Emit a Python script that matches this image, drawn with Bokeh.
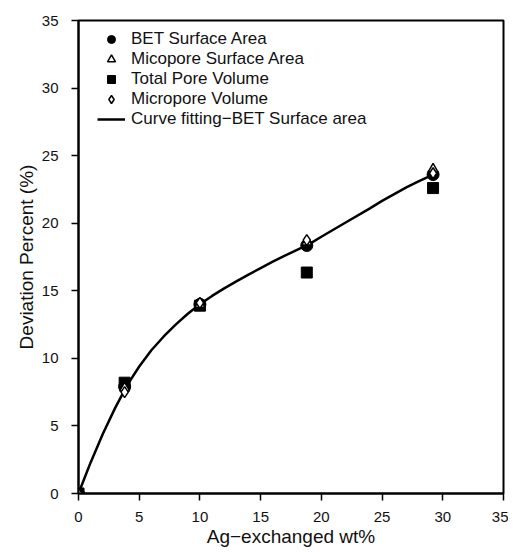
from bokeh.plotting import figure
from bokeh.models import Legend, LegendItem, FixedTicker, Range1d
from bokeh.embed import file_html
from bokeh.resources import INLINE

# data
x_pts = [0, 3.8, 10.0, 18.8, 29.2]
bet = [0, 7.9, 14.0, 18.35, 23.6]
micro_sa = [0, 7.8, 14.0, 18.6, 24.0]
total_pv = [0, 8.2, 13.9, 16.35, 22.6]
micro_vol = [0, 7.5, 14.1, 18.75, 23.7]

curve_x = [0, 1, 2, 3, 4, 5, 6, 7, 8, 9, 10, 11, 12, 13, 14, 15, 16, 17, 18, 19, 20, 22, 24, 25, 26, 27, 28, 29.2]
curve_y = [0, 2.3, 4.4, 6.3, 8.0, 9.4, 10.6, 11.6, 12.5, 13.3, 14.0, 14.62, 15.18, 15.7, 16.2, 16.68, 17.15, 17.6, 18.03, 18.45, 19.0, 20.05, 21.1, 21.65, 22.15, 22.65, 23.1, 23.6]

ticks = [0, 5, 10, 15, 20, 25, 30, 35]

FONT = "Liberation Sans"
INK = "#111111"

p = figure(width=508, height=552, output_backend="svg", toolbar_location=None,
           x_range=Range1d(0, 35), y_range=Range1d(0, 35),
           min_border_left=78, min_border_right=5, min_border_top=20, min_border_bottom=59)
p.grid.visible = False
p.outline_line_color = "black"
p.outline_line_width = 2
p.background_fill_color = "white"
p.border_fill_color = "white"

for ax in (p.xaxis[0], p.yaxis[0]):
    ax.ticker = FixedTicker(ticks=ticks)
    ax.minor_tick_line_color = None
    ax.axis_line_width = 2
    ax.axis_line_color = "black"
    ax.major_tick_line_color = "black"
    ax.major_tick_line_width = 1.5
    ax.major_tick_out = 7
    ax.major_tick_in = 0
    ax.major_label_text_font = FONT
    ax.major_label_text_font_size = "15px"
    ax.major_label_text_color = INK
    ax.axis_label_text_font = FONT
    ax.axis_label_text_font_size = "19px"
    ax.axis_label_text_font_style = "normal"
    ax.axis_label_text_color = INK

p.xaxis.axis_label = "Ag\u2212exchanged wt%"
p.yaxis.axis_label = "Deviation Percent (%)"
p.xaxis.major_label_standoff = 11
p.xaxis.axis_label_standoff = 1
p.yaxis.major_label_standoff = 13
p.yaxis.axis_label_standoff = 2

r_line = p.line(curve_x, curve_y, line_color="black", line_width=2.5)
r_sq = p.scatter(x_pts, total_pv, marker="square", size=11, fill_color="black", line_color="black")
r_bet = p.scatter(x_pts, bet, marker="circle", size=12, fill_color="black", line_color="black")
r_tri = p.scatter(x_pts, micro_sa, marker="triangle", size=10, fill_color="white", line_color="black", line_width=1.5)
r_dia = p.scatter(x_pts, micro_vol, marker="diamond", size=11, fill_color="white", line_color="black", line_width=1.5)

legend = Legend(items=[
    LegendItem(label="BET Surface Area", renderers=[r_bet]),
    LegendItem(label="Micopore Surface Area", renderers=[r_tri]),
    LegendItem(label="Total Pore Volume", renderers=[r_sq]),
    LegendItem(label="Micropore Volume", renderers=[r_dia]),
    LegendItem(label="Curve fitting\u2212BET Surface area", renderers=[r_line]),
], location=(19, 364))
legend.margin = 0
legend.padding = 0
legend.spacing = 0
legend.glyph_width = 28
legend.glyph_height = 20
legend.label_height = 20
legend.label_standoff = 6
legend.label_text_font = FONT
legend.label_text_font_size = "17px"
legend.label_text_color = INK
legend.border_line_color = None
legend.background_fill_alpha = 0
p.add_layout(legend)

open("out.html", "w").write(file_html(p, INLINE))
